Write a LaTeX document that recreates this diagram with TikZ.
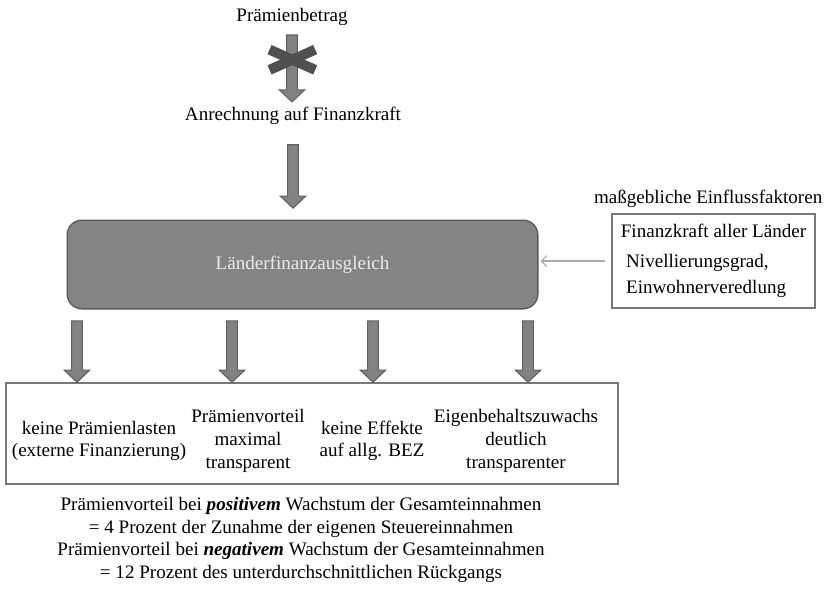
\documentclass[tikz,border=0pt]{standalone}
\usepackage{fontspec}
\setmainfont{Liberation Serif}
\usetikzlibrary{positioning,calc,arrows.meta}

\definecolor{arrowfill}{RGB}{130,130,130}
\definecolor{arrowborder}{RGB}{95,95,95}
\definecolor{boxfill}{RGB}{132,132,132}
\definecolor{boxborder}{RGB}{90,90,90}
\definecolor{lfatext}{RGB}{235,235,235}
\definecolor{starcol}{RGB}{80,80,80}
\definecolor{framecol}{RGB}{120,120,120}
\definecolor{thinline}{RGB}{170,170,170}

\tikzset{
	fatarrow/.style={draw=arrowborder, fill=arrowfill, line width=0.8pt,
		to path={let \p1=(\tikztostart), \p2=(\tikztotarget) in
			(\x1-4pt,\y1) -- (\x1+4pt,\y1) -- (\x1+4pt,\y2+9pt) -- (\x1+9.5pt,\y2+9pt)
			-- (\x1,\y2) -- (\x1-9.5pt,\y2+9pt) -- (\x1-4pt,\y2+9pt) -- cycle}},
	starbar/.style={draw=starcol, line width=7.5pt},
	thinarrow/.style={draw=thinline, line width=0.9pt, -{Straight Barb[length=4pt,width=8pt]}},
	frame/.style={draw=framecol, line width=1.3pt},
}

\begin{document}
\begin{tikzpicture}[x=0.75pt, y=-0.75pt, every node/.style={font=\fontsize{14.3}{17}\selectfont}]
	\useasboundingbox (0,0) rectangle (825,590);

	\node (top)[inner sep=0pt, outer ysep=7pt] at (292,17) {Prämienbetrag};
	\node (anr)[inner sep=0pt, outer ysep=4pt] at (293,116) {Anrechnung auf Finanzkraft};
	\node (lfa)[draw=boxborder, fill=boxfill, line width=1pt, rounded corners=11pt, text=lfatext,
		minimum width=353pt, minimum height=66.5pt, outer ysep=9pt] at (302.5,264.5) {Länderfinanzausgleich};

	\node (fbox)[frame, align=left, minimum width=152pt, minimum height=71pt,
		font=\fontsize{14.3}{19.5}\selectfont] at (713.5,261) {
		Finanzkraft aller Länder\\[3.5pt]
		\hspace{4pt}Nivellierungsgrad,\\
		\hspace{4pt}Einwohnerveredlung};
	\node (einfl)[inner sep=0pt, above=4pt of fbox, xshift=-4pt] {maßgebliche Einflussfaktoren};

	\node (low)[frame, line width=1.5pt, minimum width=459pt, minimum height=75.5pt] at (312,433.5) {};
	\node (col1)[inner sep=0pt, align=center] at (99,441) {keine Prämienlasten\\(externe Finanzierung)};
	\node (col2)[inner sep=0pt, align=center] at (248,441) {Prämienvorteil\\maximal\\transparent};
	\node (col3)[inner sep=0pt, align=center] at (372,441) {keine Effekte\\auf allg. BEZ};
	\node (col4)[inner sep=0pt, align=center] at (516,441) {Eigenbehaltszuwachs\\deutlich\\transparenter};

	\node (note)[inner sep=0pt, align=center, font=\fontsize{14.3}{16.9}\selectfont] at (301,540) {
		Prämienvorteil bei \textbf{\textit{positivem}} Wachstum der Gesamteinnahmen\\
		= 4 Prozent der Zunahme der eigenen Steuereinnahmen\\
		Prämienvorteil bei \textbf{\textit{negativem}} Wachstum der Gesamteinnahmen\\
		= 12 Prozent des unterdurchschnittlichen Rückgangs};

	\draw [fatarrow](top.south) to (anr.north);
	\path (top.south) -- (anr.north) coordinate[pos=0.37] (st);
	\draw [starbar](st) +(24:25) -- +(204:25);
	\draw [starbar](st) +(-24:25) -- +(156:25);

	\coordinate[below=11pt of anr] (b0);
	\draw [fatarrow](b0) to (lfa.north);

	\foreach \x [count=\i] in {77,232,373,528} {
		\coordinate (p\i) at (\x,0);
		\draw [fatarrow](p\i |- lfa.south) to (p\i |- low.north);
	}

	\draw [thinarrow, shorten <=5pt, shorten >=1.5pt](fbox.west) -- (fbox.west -| lfa.east);
\end{tikzpicture}
\end{document}
